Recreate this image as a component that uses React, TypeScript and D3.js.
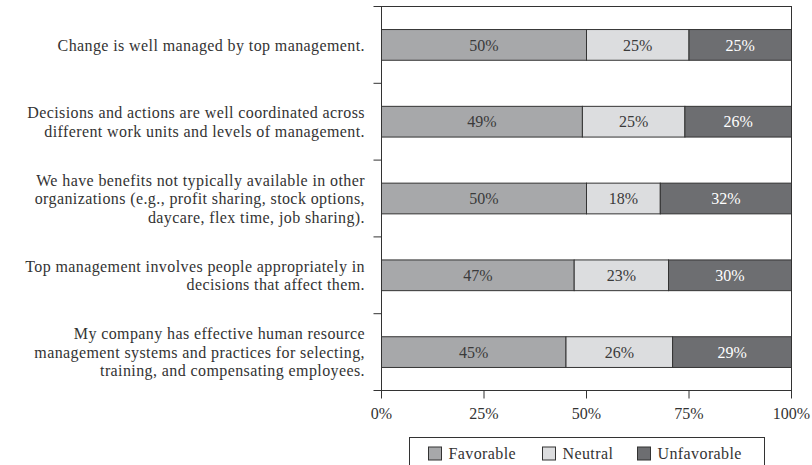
import React from "react";
import * as d3 from "d3";

const categories: string[][] = [
  ["Change is well managed by top management."],
  ["Decisions and actions are well coordinated across", "different work units and levels of management."],
  ["We have benefits not typically available in other", "organizations (e.g., profit sharing, stock options,", "daycare, flex time, job sharing)."],
  ["Top management involves people appropriately in", "decisions that affect them."],
  ["My company has effective human resource", "management systems and practices for selecting,", "training, and compensating employees."],
];
const seriesNames = ["Favorable", "Neutral", "Unfavorable"];
const favorable = [50, 49, 50, 47, 45];
const neutral = [25, 25, 18, 23, 26];
const unfavorable = [25, 26, 32, 30, 29];
const xTicks = [0, 25, 50, 75, 100];

const colors = ["#a7a8aa", "#dcdddf", "#6d6e71"];
const textColors = ["#3a3a3a", "#3a3a3a", "#ffffff"];
const FONT = "'Liberation Serif', 'DejaVu Serif', serif";

export default function App() {
  const W = 812, H = 465;
  const left = 381.5, right = 791.5, top = 6.5, bottom = 390.5;
  const x = d3.scaleLinear().domain([0, 100]).range([left, right]);
  const y = d3.scaleBand<number>().domain(d3.range(categories.length)).range([top, bottom]).paddingInner(0.6).paddingOuter(0.3);
  const yb = d3.scaleBand<number>().domain(d3.range(categories.length)).range([top, bottom]);
  const series = [favorable, neutral, unfavorable];
  const stackData = categories.map((_, i) => ({ i, Favorable: favorable[i], Neutral: neutral[i], Unfavorable: unfavorable[i] }));
  const stacked = d3.stack<any>().keys(seriesNames)(stackData);
  const lineH = 18.5;
  const fs = 16;

  return (
    <svg width={W} height={H} style={{ position: "absolute", left: 0, top: 0, background: "#fff" }} fontFamily={FONT}>
      {/* frame */}
      <rect x={left} y={top} width={right - left} height={bottom - top} fill="none" stroke="#333" strokeWidth={1} />
      {/* y ticks at band boundaries */}
      {d3.range(categories.length + 1).map((k) => {
        const yy = k < categories.length ? yb(k)! : bottom;
        return <line key={k} x1={left - 8} x2={left} y1={yy} y2={yy} stroke="#333" />;
      })}
      {/* bars */}
      {stacked.map((s, si) =>
        s.map((d, i) => (
          <g key={si + "-" + i}>
            <rect x={x(d[0])} y={y(i)} width={x(d[1]) - x(d[0])} height={y.bandwidth()} fill={colors[si]} stroke="#333" strokeWidth={1} />
            <text x={(x(d[0]) + x(d[1])) / 2} y={y(i)! + y.bandwidth() / 2} dy="0.35em" textAnchor="middle" fontSize={fs} fill={textColors[si]}>
              {series[si][i]}%
            </text>
          </g>
        ))
      )}
      {/* category labels */}
      {categories.map((lines, i) => {
        const cy = y(i)! + y.bandwidth() / 2;
        const startY = cy - ((lines.length - 1) * lineH) / 2;
        return (
          <text key={i} textAnchor="end" fontSize={fs} fill="#333" letterSpacing={0.4}>
            {lines.map((l, j) => (
              <tspan key={j} x={365} y={startY + j * lineH} dy="0.35em">{l}</tspan>
            ))}
          </text>
        );
      })}
      {/* x axis */}
      <line x1={left} x2={right} y1={bottom} y2={bottom} stroke="#333" />
      {xTicks.map((t) => (
        <g key={t}>
          <line x1={x(t)} x2={x(t)} y1={bottom} y2={bottom + 8} stroke="#333" />
          <text x={x(t)} y={bottom + 23} dy="0.35em" textAnchor="middle" fontSize={fs} fill="#333">{t}%</text>
        </g>
      ))}
      {/* legend */}
      <rect x={409.5} y={437.5} width={355} height={40} fill="#fff" stroke="#333" />
      {seriesNames.map((n, i) => {
        const lx = [428.5, 542.5, 637.5][i];
        return (
          <g key={n}>
            <rect x={lx} y={447} width={13} height={13} fill={colors[i]} stroke="#333" />
            <text x={lx + 20} y={453.5} dy="0.35em" fontSize={fs} fill="#333" letterSpacing={0.4}>{n}</text>
          </g>
        );
      })}
    </svg>
  );
}
